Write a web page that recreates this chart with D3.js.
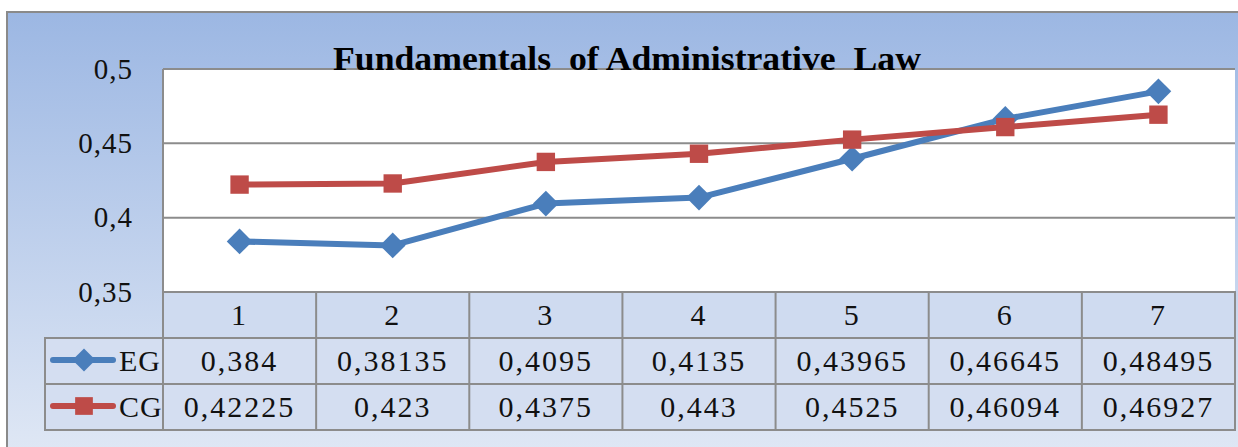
<!DOCTYPE html>
<html>
<head>
<meta charset="utf-8">
<script src="https://cdn.jsdelivr.net/npm/d3@7"></script>
<style>
  body { margin: 0; background: #fff; }
  text { font-family: "Liberation Serif", "DejaVu Serif", serif; }
</style>
</head>
<body>
<script>
// chart data
const categories = [1, 2, 3, 4, 5, 6, 7];
const egValues = [0.384, 0.38135, 0.4095, 0.4135, 0.43965, 0.46645, 0.48495];
const cgValues = [0.42225, 0.423, 0.4375, 0.443, 0.4525, 0.46094, 0.46927];
const yTicks = [0.35, 0.4, 0.45, 0.5];
const seriesNames = ['EG', 'CG'];
const seriesColors = ['#4a7ebb', '#be4b48'];

const width = 1238, height = 447;
const plot = { left: 163, right: 1235, top: 69, bottom: 292 };
const rowH = 46;

const svg = d3.select('body').append('svg')
  .attr('width', width)
  .attr('height', height);

// background gradient
const defs = svg.append('defs');
const grad = defs.append('linearGradient')
  .attr('id', 'bg').attr('x1', 0).attr('y1', 0).attr('x2', 0).attr('y2', 1);
grad.append('stop').attr('offset', '0%').attr('stop-color', '#9cb7e3');
grad.append('stop').attr('offset', '100%').attr('stop-color', '#e0e8f5');

svg.append('rect')
  .attr('x', 7).attr('y', 12)
  .attr('width', width + 10).attr('height', height)
  .attr('fill', 'url(#bg)')
  .attr('stroke', '#8a8a8a').attr('stroke-width', 2);

// scales
const x = d3.scaleBand().domain(categories).range([plot.left, plot.right]);
const y = d3.scaleLinear().domain([0.35, 0.5]).range([plot.bottom, plot.top]);

// plot area
svg.append('rect')
  .attr('x', plot.left).attr('y', plot.top)
  .attr('width', plot.right - plot.left).attr('height', plot.bottom - plot.top)
  .attr('fill', '#fff');

// gridlines
svg.append('g')
  .selectAll('line')
  .data(yTicks)
  .enter().append('line')
  .attr('x1', plot.left).attr('x2', plot.right)
  .attr('y1', d => y(d)).attr('y2', d => y(d))
  .attr('stroke', '#8c8c8c').attr('stroke-width', 2);

svg.append('line')
  .attr('x1', plot.left).attr('x2', plot.left)
  .attr('y1', plot.top).attr('y2', plot.bottom + rowH)
  .attr('stroke', '#8c8c8c').attr('stroke-width', 2);

// y axis labels
const yAxis = svg.append('g')
  .attr('transform', `translate(${plot.left},0)`)
  .call(d3.axisLeft(y).tickValues(yTicks).tickSize(0).tickPadding(30)
    .tickFormat(d => String(d).replace('.', ',')));
yAxis.select('.domain').remove();
yAxis.selectAll('text')
  .style('font-family', '"Liberation Serif", serif')
  .style('font-size', '29px')
  .attr('fill', '#111')
  .attr('letter-spacing', 1);

// lines and markers
const allSeries = [egValues, cgValues];
const line = d3.line()
  .x((d, i) => x(categories[i]) + x.bandwidth() / 2)
  .y(d => y(d));

allSeries.forEach((vals, s) => {
  svg.append('path')
    .datum(vals)
    .attr('d', line)
    .attr('fill', 'none')
    .attr('stroke', seriesColors[s])
    .attr('stroke-width', 6)
    .attr('stroke-linejoin', 'round');

  const sym = d3.symbol()
    .type(s === 0 ? d3.symbolDiamond2 : d3.symbolSquare2)
    .size(s === 0 ? 420 : 430);

  svg.append('g')
    .selectAll('path')
    .data(vals)
    .enter().append('path')
    .attr('transform', (d, i) => `translate(${x(categories[i]) + x.bandwidth() / 2},${y(d)})`)
    .attr('d', sym)
    .attr('fill', seriesColors[s]);
});

// data table
const table = svg.append('g');
const legendLeft = 45;
const cellStroke = '#8c8c8c';

table.append('rect')
  .attr('x', plot.left).attr('y', plot.bottom)
  .attr('width', plot.right - plot.left).attr('height', rowH)
  .attr('fill', '#cfdbf0').attr('stroke', cellStroke).attr('stroke-width', 2);

table.append('rect')
  .attr('x', legendLeft).attr('y', plot.bottom + rowH)
  .attr('width', plot.right - legendLeft).attr('height', rowH * 2)
  .attr('fill', '#d4def1').attr('stroke', cellStroke).attr('stroke-width', 2);

table.append('line')
  .attr('x1', legendLeft).attr('x2', plot.right)
  .attr('y1', plot.bottom + rowH * 2).attr('y2', plot.bottom + rowH * 2)
  .attr('stroke', cellStroke).attr('stroke-width', 2);

table.selectAll('.col')
  .data(categories)
  .enter().append('line')
  .attr('class', 'col')
  .attr('x1', d => x(d)).attr('x2', d => x(d))
  .attr('y1', plot.bottom).attr('y2', plot.bottom + rowH * 3)
  .attr('stroke', cellStroke).attr('stroke-width', 2);

const cellFont = t => t
  .attr('text-anchor', 'middle')
  .attr('font-size', 30)
  .attr('letter-spacing', 2)
  .attr('fill', '#111');

table.selectAll('.head')
  .data(categories)
  .enter().append('text')
  .attr('class', 'head')
  .attr('x', d => x(d) + x.bandwidth() / 2)
  .attr('y', plot.bottom + rowH / 2 + 10)
  .text(d => d)
  .call(cellFont);

allSeries.forEach((vals, s) => {
  const rowY = plot.bottom + rowH * (s + 1);
  table.selectAll('.v' + s)
    .data(vals)
    .enter().append('text')
    .attr('class', 'v' + s)
    .attr('x', (d, i) => x(categories[i]) + x.bandwidth() / 2)
    .attr('y', rowY + rowH / 2 + 10)
    .text(d => String(d).replace('.', ','))
    .call(cellFont);

  // legend key
  table.append('line')
    .attr('x1', 53).attr('x2', 113)
    .attr('y1', rowY + rowH / 2 - 1).attr('y2', rowY + rowH / 2 - 1)
    .attr('stroke', seriesColors[s]).attr('stroke-width', 6)
    .attr('stroke-linecap', 'round');
  table.append('path')
    .attr('transform', `translate(84,${rowY + rowH / 2 - 1})`)
    .attr('d', d3.symbol().type(s === 0 ? d3.symbolDiamond2 : d3.symbolSquare2).size(s === 0 ? 340 : 400))
    .attr('fill', seriesColors[s]);
  table.append('text')
    .attr('x', 119)
    .attr('y', rowY + rowH / 2 + 10)
    .attr('font-size', 30)
    .attr('letter-spacing', 1)
    .attr('fill', '#111')
    .text(seriesNames[s]);
});

// title
svg.append('text')
  .attr('x', 627).attr('y', 70)
  .attr('text-anchor', 'middle')
  .attr('font-size', 33)
  .attr('font-weight', 'bold')
  .attr('textLength', 588)
  .attr('lengthAdjust', 'spacingAndGlyphs')
  .attr('fill', '#000')
  .style('white-space', 'pre')
  .text('Fundamentals  of Administrative  Law');
</script>
</body>
</html>
